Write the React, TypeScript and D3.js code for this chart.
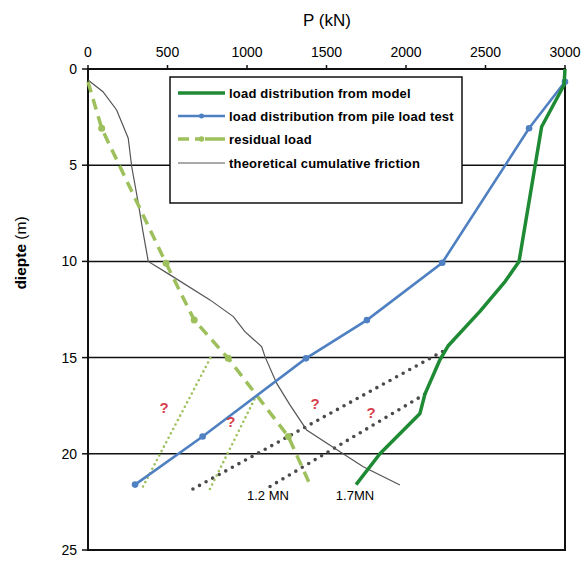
import React from "react";
import * as d3 from "d3";

const xTicks = [0, 500, 1000, 1500, 2000, 2500, 3000];
const yTicks = [0, 5, 10, 15, 20, 25];
const gridDepths = [5, 10, 15, 20];

// load distribution from model [P (kN), depth (m)]
const modelP = [3000, 2994, 2853, 2711, 2623, 2465, 2264, 2214, 2119, 2088, 1836, 1686];
const modelD = [0, 0.83, 3.0, 10.0, 11.05, 12.6, 14.4, 15.1, 16.9, 17.9, 20.0, 21.6];

// load distribution from pile load test
const pileP = [3000, 2774, 2228, 1754, 1371, 721, 296];
const pileD = [0.66, 3.08, 10.07, 13.05, 15.04, 19.1, 21.6];

// residual load
const resP = [0, 86, 491, 668, 882, 1260, 1396];
const resD = [0.66, 3.08, 10.1, 13.05, 15.04, 19.1, 21.6];
const resMarkerIdx = [1, 2, 3, 4, 5];

// theoretical cumulative friction
const fricP = [0, 94, 180, 253, 275, 316, 344, 379, 516, 767, 914, 987, 1092, 1113, 1187, 1270, 1375, 1585, 1731, 1962];
const fricD = [0.57, 1.18, 2.13, 3.6, 5.08, 6.96, 8.37, 10.0, 10.7, 12.0, 12.87, 13.65, 14.43, 14.95, 16.34, 17.46, 18.76, 19.89, 20.67, 21.62];

// dotted construction lines
const darkDotP = [[660, 2239], [1145, 2119]];
const darkDotD = [[21.83, 14.64], [21.7, 16.9]];
const lightDotP = [[346, 780], [767, 1057]];
const lightDotD = [[21.7, 14.86], [21.83, 17.0]];

// annotations
const qP = [478, 899, 1428, 1780];
const qD = [17.6, 18.35, 17.4, 17.9];
const mnLabels = ["1.2 MN", "1.7MN"];
const mnP = [1132, 1679];
const mnD = [22.15, 22.15];

const legendLabels = [
  "load distribution from model",
  "load distribution from pile load test",
  "residual load",
  "theoretical cumulative friction",
];

const GREEN = "#1f8a34";
const BLUE = "#4f80c2";
const LGREEN = "#9dc05c";
const GRAY = "#555555";
const DOT = "#4a4a4a";
const RED = "#d8404e";

export default function App() {
  const x = d3.scaleLinear().domain([0, 3000]).range([88, 565]);
  const y = d3.scaleLinear().domain([0, 25]).range([69, 550]);
  const line = d3
    .line<[number, number]>()
    .x((d) => x(d[0]))
    .y((d) => y(d[1]));
  const zip = (a: number[], b: number[]) => a.map((v, i) => [v, b[i]] as [number, number]);

  const font = "Liberation Sans, Arial, sans-serif";
  const lx0 = 178, lx1 = 225, ltx = 229;
  const lys = [93, 116, 139, 163];

  return (
    <svg width={586} height={562} style={{ display: "block", position: "absolute", left: 0, top: 0 }} fontFamily={font}>
      <rect width={586} height={562} fill="#fff" />
      {/* title */}
      <text x={327} y={26} textAnchor="middle" fontSize={17}>P (kN)</text>
      {/* y label */}
      <text transform="translate(26,253) rotate(-90)" textAnchor="middle" fontSize={15.5}>
        <tspan fontWeight="bold">diepte</tspan>
        <tspan> (m)</tspan>
      </text>
      {/* grid lines */}
      {gridDepths.map((d) => (
        <line key={d} x1={x(0)} x2={x(3000)} y1={y(d)} y2={y(d)} stroke="#111" strokeWidth={1.5} />
      ))}
      {/* frame */}
      <rect x={x(0)} y={y(0)} width={x(3000) - x(0)} height={y(25) - y(0)} fill="none" stroke="#111" strokeWidth={2} />
      {/* x ticks */}
      {xTicks.map((t) => (
        <g key={t}>
          <line x1={x(t)} x2={x(t)} y1={y(0)} y2={y(0) - 4} stroke="#111" strokeWidth={1.5} />
          <text x={x(t)} y={57} textAnchor="middle" fontSize={14}>{t}</text>
        </g>
      ))}
      {/* y ticks */}
      {yTicks.map((t) => (
        <g key={t}>
          <line x1={x(0) - 6} x2={x(0)} y1={y(t)} y2={y(t)} stroke="#111" strokeWidth={1.5} />
          <text x={77} y={y(t) + 5} textAnchor="end" fontSize={14}>{t}</text>
        </g>
      ))}
      {/* legend */}
      <rect x={170} y={77} width={292} height={126} fill="#fff" stroke="#111" strokeWidth={1.5} />
      <line x1={lx0} x2={lx1} y1={lys[0]} y2={lys[0]} stroke={GREEN} strokeWidth={3.5} />
      <line x1={lx0} x2={lx1} y1={lys[1]} y2={lys[1]} stroke={BLUE} strokeWidth={2.5} />
      <circle cx={(lx0 + lx1) / 2} cy={lys[1]} r={2.5} fill={BLUE} />
      <line x1={lx0} x2={lx1} y1={lys[2]} y2={lys[2]} stroke={LGREEN} strokeWidth={3.5} strokeDasharray="11 6 4 6 30" />
      <circle cx={(lx0 + lx1) / 2} cy={lys[2]} r={2.8} fill={LGREEN} />
      <line x1={lx0} x2={lx1} y1={lys[3]} y2={lys[3]} stroke={GRAY} strokeWidth={1.2} />
      {legendLabels.map((l, i) => (
        <text key={l} x={ltx} y={lys[i] + 4.5} fontSize={13} fontWeight="bold" letterSpacing={0.2}>{l}</text>
      ))}
      {/* dotted construction lines */}
      {darkDotP.map((p, i) => (
        <path key={"dd" + i} d={line(zip(p, darkDotD[i])) || ""} stroke={DOT} strokeWidth={3.6} strokeLinecap="round" strokeDasharray="0 7.5" fill="none" />
      ))}
      {lightDotP.map((p, i) => (
        <path key={"ld" + i} d={line(zip(p, lightDotD[i])) || ""} stroke={LGREEN} strokeWidth={2.6} strokeLinecap="round" strokeDasharray="0 5" fill="none" />
      ))}
      {/* friction */}
      <path d={line(zip(fricP, fricD)) || ""} stroke={GRAY} strokeWidth={1.2} fill="none" />
      {/* residual */}
      <path d={line(zip(resP, resD)) || ""} stroke={LGREEN} strokeWidth={3.5} strokeDasharray="11 7" fill="none" />
      {resMarkerIdx.map((i) => (
        <circle key={"rm" + i} cx={x(resP[i])} cy={y(resD[i])} r={3.5} fill={LGREEN} />
      ))}
      {/* pile load test */}
      <path d={line(zip(pileP, pileD)) || ""} stroke={BLUE} strokeWidth={2.6} fill="none" />
      {pileP.map((p, i) => (
        <circle key={"pm" + i} cx={x(p)} cy={y(pileD[i])} r={3.3} fill={BLUE} />
      ))}
      {/* model */}
      <path d={line(zip(modelP, modelD)) || ""} stroke={GREEN} strokeWidth={3.5} fill="none" strokeLinejoin="round" />
      {/* question marks */}
      {qP.map((p, i) => (
        <text key={"q" + i} x={x(p)} y={y(qD[i]) + 5} textAnchor="middle" fontSize={15} fontWeight="bold" fill={RED}>?</text>
      ))}
      {mnLabels.map((l, i) => (
        <text key={l} x={x(mnP[i])} y={y(mnD[i]) + 5} textAnchor="middle" fontSize={13}>{l}</text>
      ))}
    </svg>
  );
}
